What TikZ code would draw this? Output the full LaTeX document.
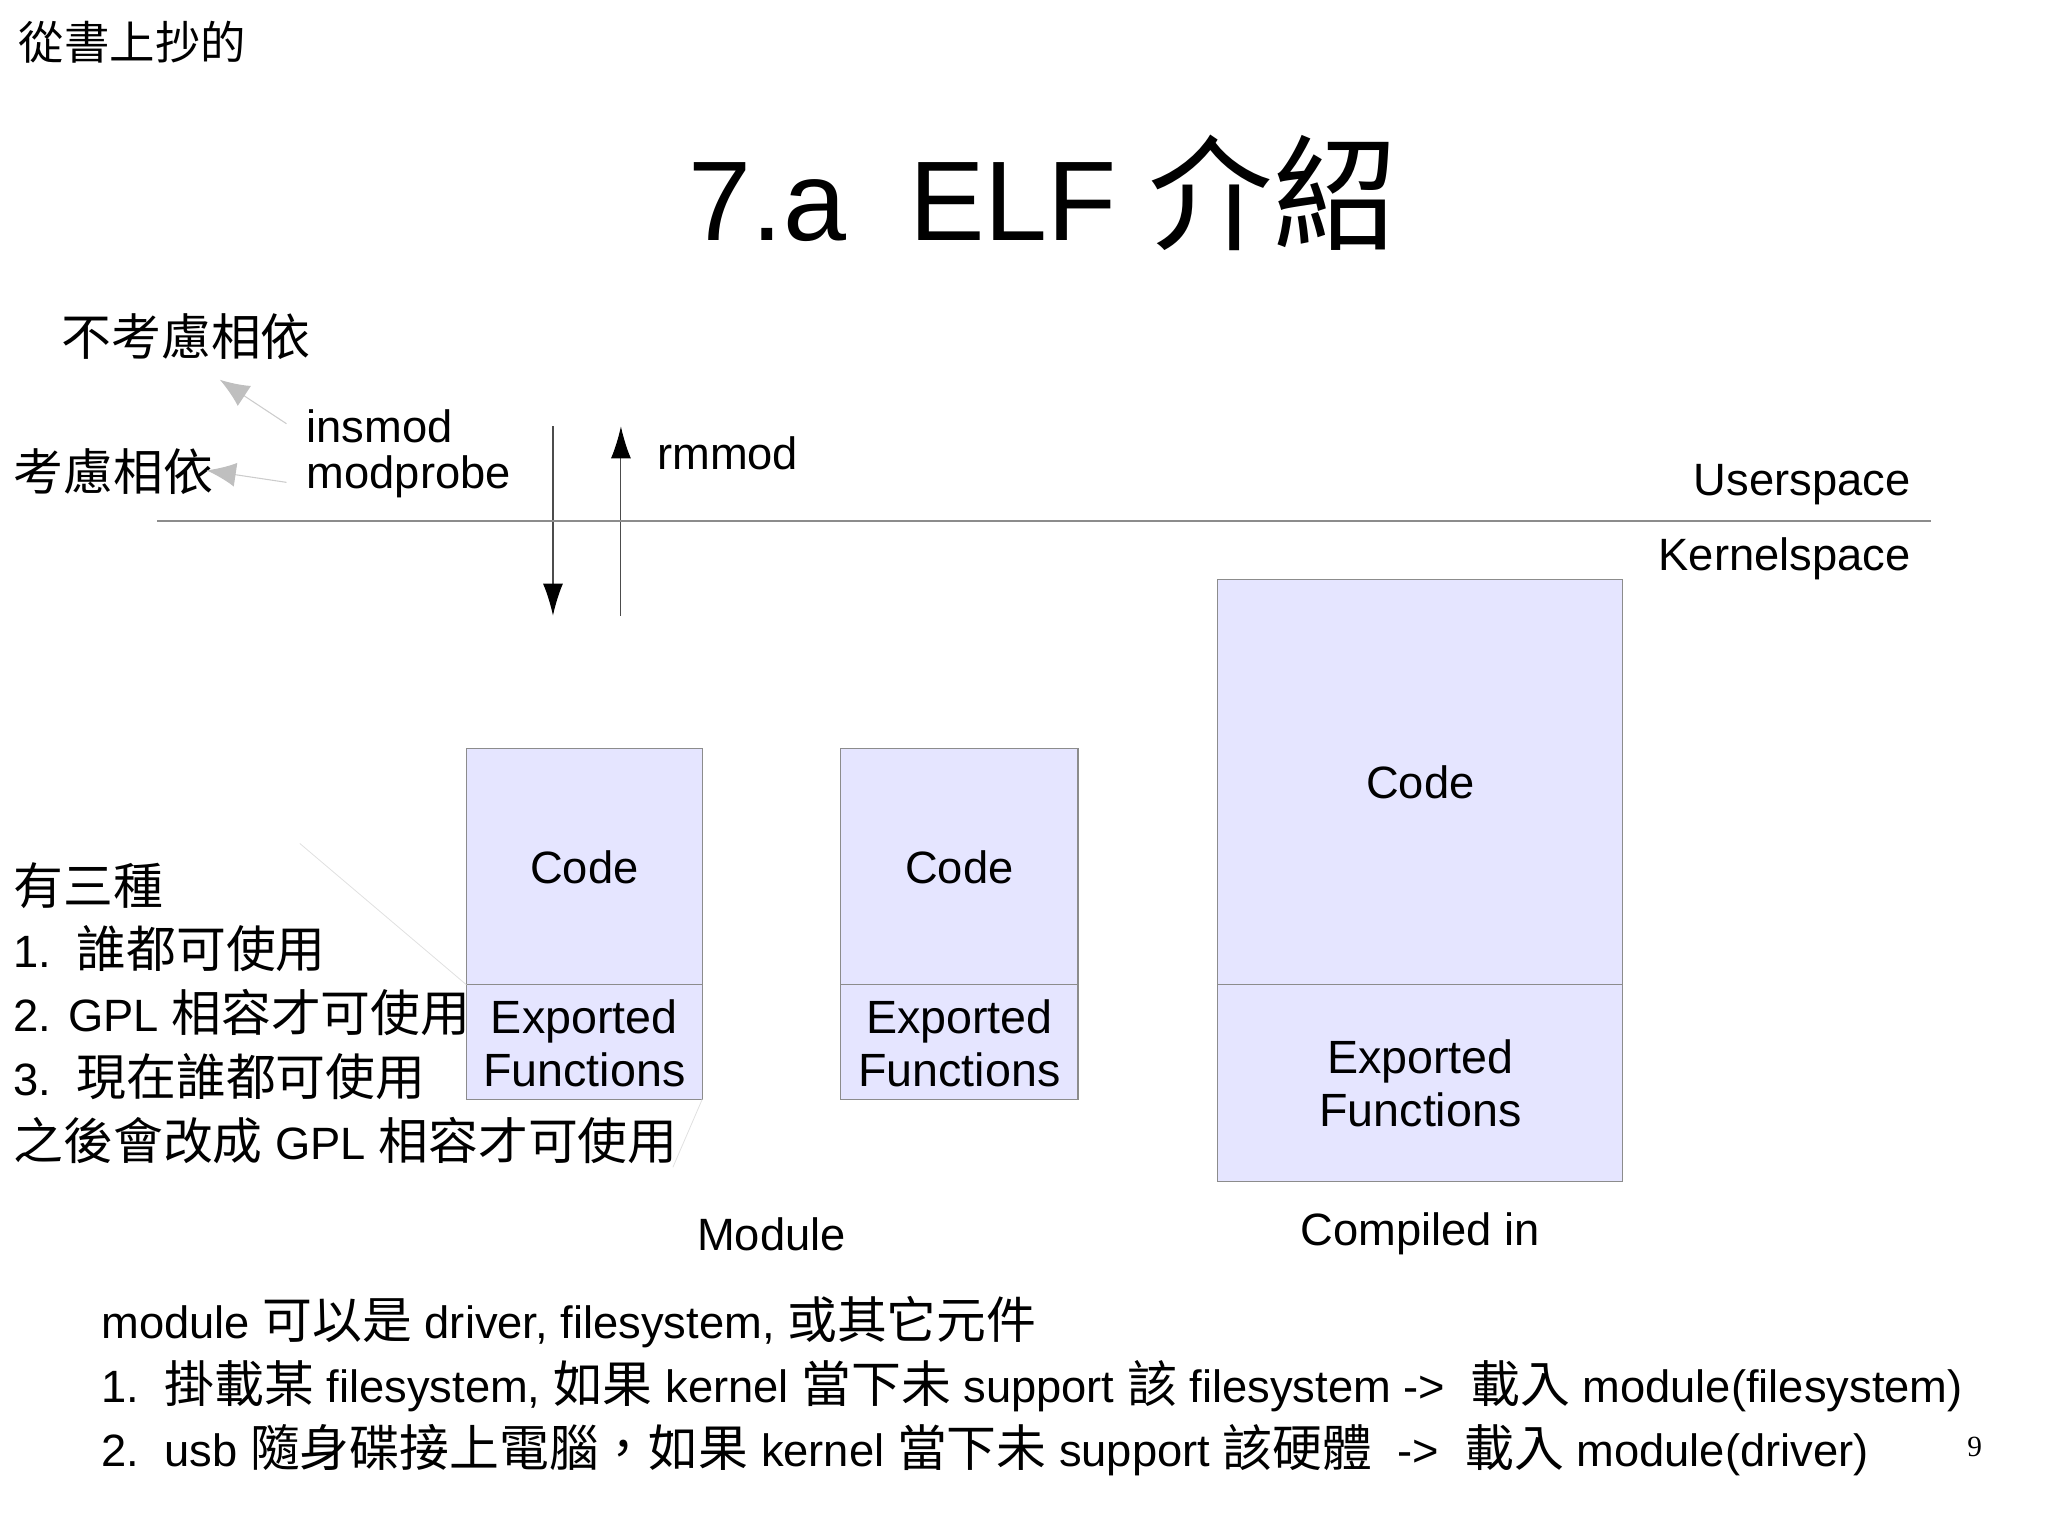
\documentclass[tikz,border=0pt]{standalone}
\usepackage{fontspec}
\setmainfont{Liberation Sans}
\newfontfamily\cjkf[Scale=1.1]{Noto Sans CJK TC}
\newcommand\zh[1]{{\cjkf #1}}
\usetikzlibrary{arrows.meta}
\begin{document}
\begin{tikzpicture}[x=1pt,y=-1pt,
  txt/.style={inner sep=0pt,font=\fontsize{34}{40}\selectfont},
  box/.style={draw=black!45,fill=blue!10!white,line width=0.8pt},
  garrow/.style={draw=black!20,line width=0.8pt,-{Latex[length=22pt,width=18pt,color=black!25]}},
  barrow/.style={draw=black!70,line width=0.8pt,-{Latex[length=24pt,width=15pt,color=black]}},
  faint/.style={draw=black!12,line width=0.6pt}]
\useasboundingbox (0,0) rectangle (1537,1152);
\node[txt,anchor=west,font=\fontsize{31}{36}\selectfont] (src) at (14,32) {\zh{從書上抄的}};
\node[txt,font=\fontsize{85}{95}\selectfont] (title) at (783,145) {7.a\ \ ELF \zh{介紹}};
\node[txt,anchor=west] (nodep) at (46,253) {\zh{不考慮相依}};
\node[txt,anchor=west] (dep) at (10,354) {\zh{考慮相依}};
\node[txt,anchor=west] (ins) at (230,320) {insmod};
\node[txt,anchor=west] (modp) at (230,358) {modprobe};
\coordinate (a1s) at (215,318); \coordinate (a1e) at (165,285);
\coordinate (a2s) at (215,362); \coordinate (a2e) at (155,353);
\draw[garrow] (a1s) -- (a1e);
\draw[garrow] (a2s) -- (a2e);
\coordinate (d1) at (415,320); \coordinate (d2) at (415,462);
\coordinate (u1) at (466,462); \coordinate (u2) at (466,320);
\draw[barrow] (d1) -- (d2);
\draw[barrow] (u1) -- (u2);
\node[txt,anchor=west] (rm) at (493,340) {rmmod};
\coordinate (l1) at (118,391); \coordinate (l2) at (1449,391);
\draw[draw=black!45,line width=0.8pt] (l1) -- (l2);
\node[txt,anchor=east] (us) at (1434,364) {Userspace};
\node[txt,anchor=east] (ks) at (1434,419) {Kernelspace};
% boxes
\draw[box] (350,562) rectangle (527,739);
\draw[box] (350,739) rectangle (527,825);
\draw[box] (631,562) rectangle (809,739);
\draw[box] (631,739) rectangle (809,825);
\draw[box] (914,435) rectangle (1218,739);
\draw[box] (914,739) rectangle (1218,887);
\node[txt] (c1) at (438.5,651) {Code};
\node[txt,align=center,font=\fontsize{35}{40}\selectfont] (e1) at (438.5,783) {Exported\\Functions};
\node[txt] (c2) at (720,651) {Code};
\node[txt,align=center,font=\fontsize{35}{40}\selectfont] (e2) at (720,783) {Exported\\Functions};
\node[txt] (c3) at (1066,587) {Code};
\node[txt,align=center,font=\fontsize{35}{40}\selectfont] (e3) at (1066,813) {Exported\\Functions};
\node[txt] (mod) at (579,926) {Module};
\node[txt] (ci) at (1066,926) {Compiled in};
\draw[faint] (225,633) -- (350,739);
\draw[faint] (527,825) -- (505,876);
% left list
\node[txt,anchor=west] (t0) at (10,665) {\zh{有三種}};
\node[txt,anchor=west] (t1) at (10,712) {1.\ \ \zh{誰都可使用}};
\node[txt,anchor=west] (t2) at (10,760) {2. GPL \zh{相容才可使用}};
\node[txt,anchor=west] (t3) at (10,808) {3.\ \ \zh{現在誰都可使用}};
\node[txt,anchor=west] (t4) at (10,856) {\zh{之後會改成} GPL \zh{相容才可使用}};
% bottom
\node[txt,anchor=west] (b0) at (76,992) {module \zh{可以是} driver, filesystem,\ \zh{或其它元件}};
\node[txt,anchor=west] (b1) at (76,1040) {1.\ \ \zh{掛載某} filesystem,\ \zh{如果} kernel \zh{當下未} support \zh{該} filesystem -{}>\ \ \zh{載入} module(filesystem)};
\node[txt,anchor=west] (b2) at (76,1088) {2.\ \ usb \zh{隨身碟接上電腦，如果} kernel \zh{當下未} support \zh{該硬體}\ \ -{}>\ \ \zh{載入} module(driver)};
\node[inner sep=0pt,font=\fontsize{22}{26}\selectfont\fontspec{Liberation Serif}] (pg) at (1482,1086) {9};
\end{tikzpicture}
\end{document}
